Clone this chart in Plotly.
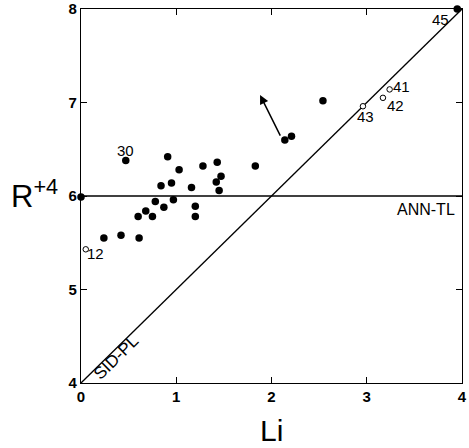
import plotly.graph_objects as go

# Filled points (Li, R+4)
li_filled = [0.0, 0.24, 0.42, 0.61, 0.60, 0.68, 0.75, 0.78, 0.87, 0.84, 0.91, 0.95, 0.97,
             1.03, 0.47, 1.16, 1.20, 1.20, 1.28, 1.43, 1.42, 1.47, 1.45, 1.83, 2.14, 2.21,
             2.54, 3.95]
r_filled = [5.99, 5.55, 5.58, 5.55, 5.78, 5.84, 5.78, 5.94, 5.88, 6.11, 6.42, 6.14, 5.96,
            6.28, 6.38, 6.09, 5.89, 5.78, 6.32, 6.36, 6.15, 6.21, 6.06, 6.32, 6.60, 6.64,
            7.02, 8.0]

# Open points
li_open = [0.05, 2.96, 3.24, 3.17]
r_open = [5.43, 6.96, 7.14, 7.05]

# Point labels
lab_text = ["30", "12", "43", "41", "42", "45"]
lab_li = [0.47, 0.15, 2.99, 3.36, 3.30, 3.77]
lab_r = [6.49, 5.38, 6.85, 7.17, 6.97, 7.89]

# Arrow (tail, head)
arrow_tail = (2.10, 6.63)
arrow_head = (1.88, 7.08)

x_ticks = [0, 1, 2, 3, 4]
y_ticks = [4, 5, 6, 7, 8]

font_fam = "Liberation Sans, Arial, sans-serif"

fig = go.Figure()
# reference lines
fig.add_trace(go.Scatter(x=[0, 4], y=[6, 6], mode="lines",
                         line=dict(color="black", width=1.3), hoverinfo="skip"))
fig.add_trace(go.Scatter(x=[0, 4], y=[4, 8], mode="lines",
                         line=dict(color="black", width=1.3), hoverinfo="skip"))
fig.add_trace(go.Scatter(x=li_filled, y=r_filled, mode="markers",
                         marker=dict(color="black", size=7.5), cliponaxis=False))
fig.add_trace(go.Scatter(x=li_open, y=r_open, mode="markers",
                         marker=dict(color="white", size=5.5,
                                     line=dict(color="black", width=1)),
                         cliponaxis=False))

for t, x, y in zip(lab_text, lab_li, lab_r):
    fig.add_annotation(x=x, y=y, text=t, showarrow=False,
                       font=dict(family=font_fam, size=15, color="black"))

fig.add_annotation(x=arrow_head[0], y=arrow_head[1], ax=arrow_tail[0], ay=arrow_tail[1],
                   xref="x", yref="y", axref="x", ayref="y", text="",
                   showarrow=True, arrowhead=2, arrowsize=1.2, arrowwidth=1.5,
                   arrowcolor="black")

fig.add_annotation(x=3.62, y=5.86, text="ANN-TL", showarrow=False,
                   font=dict(family=font_fam, size=16, color="black"))
fig.add_annotation(x=0.37, y=4.27, text="SID-PL", showarrow=False, textangle=-44.5,
                   font=dict(family=font_fam, size=17, color="black"))

# axis titles
fig.add_annotation(xref="x domain", yref="y domain", x=-0.19, y=0.505,
                   xanchor="left", yanchor="middle",
                   text="R<sup>+4</sup>", showarrow=False,
                   font=dict(family=font_fam, size=31, color="black"))
fig.add_annotation(xref="x domain", yref="y domain", x=0.5, y=-0.127,
                   xanchor="center", yanchor="middle", text="Li",
                   showarrow=False, font=dict(family=font_fam, size=30, color="black"))

fig.update_xaxes(range=[0, 4], tickvals=x_ticks, ticktext=[str(v) for v in x_ticks],
                 showgrid=False, zeroline=False, showline=True, linecolor="black",
                 linewidth=1.3, mirror="ticks", ticks="inside", ticklen=6,
                 tickcolor="black", automargin=False,
                 tickfont=dict(family=font_fam, size=15, color="black", weight="bold"))
fig.update_yaxes(range=[4, 8], tickvals=y_ticks, ticktext=[str(v) for v in y_ticks],
                 showgrid=False, zeroline=False, showline=True, linecolor="black",
                 linewidth=1.3, mirror="ticks", ticks="inside", ticklen=6,
                 tickcolor="black", automargin=False,
                 tickfont=dict(family=font_fam, size=15, color="black", weight="bold"))

fig.update_layout(width=469, height=448, showlegend=False,
                  margin=dict(l=81, r=7, t=9, b=65),
                  plot_bgcolor="white", paper_bgcolor="white")

fig.write_html("out.html", config={"displayModeBar": False},
               post_script="document.body.style.margin='0';document.body.style.overflow='hidden';")
